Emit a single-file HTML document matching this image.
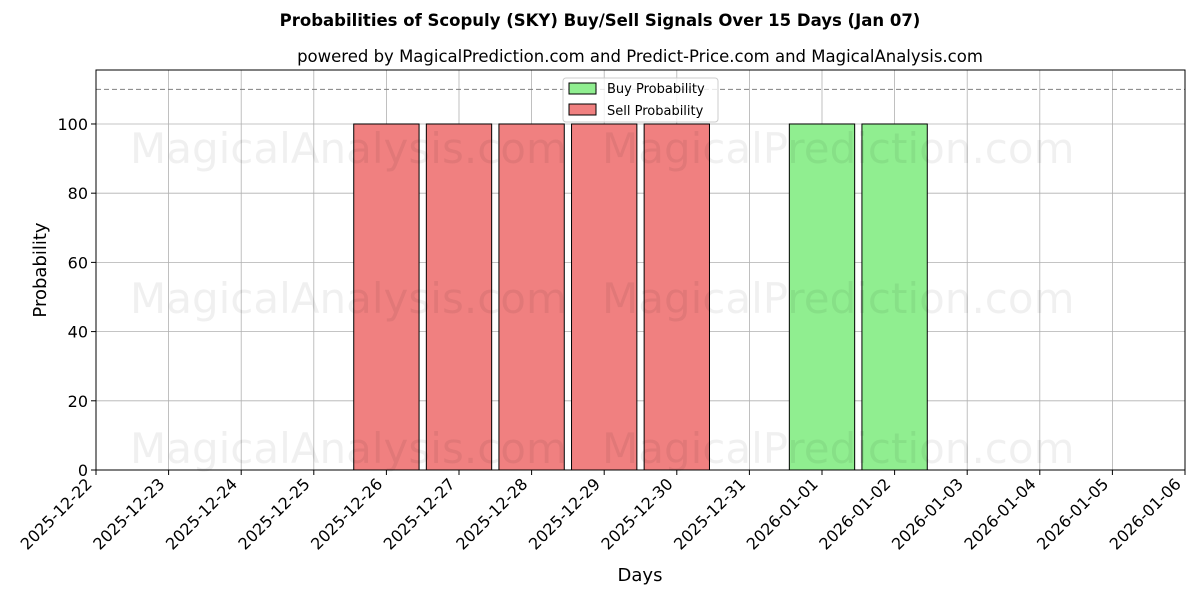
<!DOCTYPE html>
<html><head><meta charset="utf-8"><style>
body{margin:0;background:#fff;font-family:"DejaVu Sans","Liberation Sans",sans-serif;}
svg text{font-family:"DejaVu Sans","Liberation Sans",sans-serif;}
</style></head><body>
<svg id="chart" width="1200" height="600" xmlns="http://www.w3.org/2000/svg">
<rect width="1200" height="600" fill="#fff"/>
<text x="600" y="26" text-anchor="middle" font-size="16.5" font-weight="bold">Probabilities of Scopuly (SKY) Buy/Sell Signals Over 15 Days (Jan 07)</text>
<text x="640" y="62" text-anchor="middle" font-size="16.5">powered by MagicalPrediction.com and Predict-Price.com and MagicalAnalysis.com</text>
<g id="grid"></g>
<g id="bars"></g>
<g id="wm" fill="#000" fill-opacity="0.06" font-size="42">
<text x="130" y="163">MagicalAnalysis.com</text><text x="602" y="163">MagicalPrediction.com</text>
<text x="130" y="313">MagicalAnalysis.com</text><text x="602" y="313">MagicalPrediction.com</text>
<text x="130" y="463">MagicalAnalysis.com</text><text x="602" y="463">MagicalPrediction.com</text>
</g>
<line x1="96" x2="1185" y1="89.4" y2="89.4" stroke="#808080" stroke-dasharray="5,3"/>
<rect x="96" y="70" width="1089" height="400" fill="none" stroke="#000"/>
<g id="axes"></g>
<text x="640" y="581" text-anchor="middle" font-size="18">Days</text>
<text transform="translate(46,270) rotate(-90)" text-anchor="middle" font-size="18">Probability</text>
<g>
<rect x="563" y="78" width="155" height="44" rx="3" fill="#fff" fill-opacity="0.8" stroke="#ccc"/>
<g><rect x="569" y="83" width="27" height="11" fill="#90ee90" stroke="#000"/><text x="607" y="93" font-size="13">Buy Probability</text></g>
<g><rect x="569" y="104" width="27" height="11" fill="#f08080" stroke="#000"/><text x="607" y="115" font-size="13">Sell Probability</text></g>
</g>
</svg>
<script>
const dates=["2025-12-22","2025-12-23","2025-12-24","2025-12-25","2025-12-26","2025-12-27","2025-12-28","2025-12-29","2025-12-30","2025-12-31","2026-01-01","2026-01-02","2026-01-03","2026-01-04","2026-01-05","2026-01-06"];
const buyValues=[0,0,0,0,0,0,0,0,0,0,100,100,0,0,0,0];
const sellValues=[0,0,0,0,100,100,100,100,100,0,0,0,0,0,0,0];
const yTicks=[0,20,40,60,80,100];
const NS="http://www.w3.org/2000/svg";
const X0=96,X1=1185,Y0=470,Y1=70,YMAX=115.6;
const xs=i=>X0+i*(X1-X0)/(dates.length-1);
const ys=v=>Y0-v*(Y0-Y1)/YMAX;
const bw=0.9*(X1-X0)/(dates.length-1);
function mk(t,a,p){const e=document.createElementNS(NS,t);for(const k in a)e.setAttribute(k,a[k]);p.appendChild(e);return e;}
const grid=document.getElementById('grid'),bars=document.getElementById('bars'),axes=document.getElementById('axes');
dates.forEach((d,i)=>{
 const x=xs(i);
 const g=mk('line',{x1:x,x2:x,y1:Y1,y2:Y0,stroke:'#b0b0b0','stroke-width':0.8},grid);
 
 
 const tk=mk('line',{x1:x,x2:x,y1:Y0,y2:Y0+5,stroke:'#000'},axes);
 
 
 const t=mk('text',{transform:`translate(${x-3},${Y0+15}) rotate(-45)`,'text-anchor':'end','font-size':16},axes);
 t.textContent=d;
 
 
});
yTicks.forEach(v=>{
 const y=ys(v);
 const g=mk('line',{x1:X0,x2:X1,y1:y,y2:y,stroke:'#b0b0b0','stroke-width':0.8},grid);
 
 
 const tk=mk('line',{x1:X0-5,x2:X0,y1:y,y2:y,stroke:'#000'},axes);
 
 
 const t=mk('text',{x:X0-8,y:y+6,'text-anchor':'end','font-size':16},axes);
 t.textContent=v;
 
 
});
function drawBars(vals,color,name){
 vals.forEach((v,i)=>{
  if(v<=0)return;
  const r=mk('rect',{x:xs(i)-bw/2,y:ys(v),width:bw,height:Y0-ys(v),fill:color,stroke:'#000','stroke-width':1},bars);
  
  
 });
}
drawBars(sellValues,'#f08080','sell-bar');
drawBars(buyValues,'#90ee90','buy-bar');
</script>
</body></html>
